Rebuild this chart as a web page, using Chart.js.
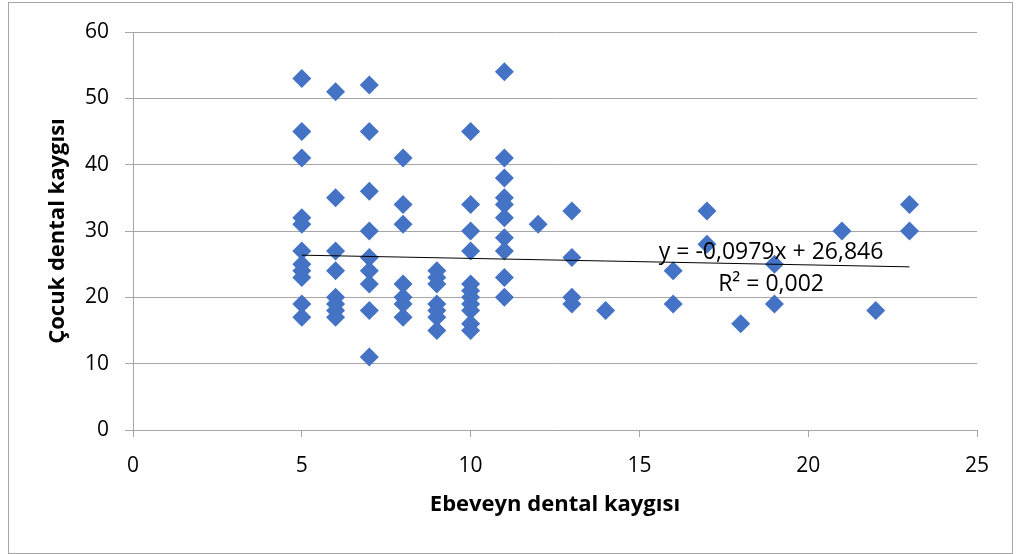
<!DOCTYPE html>
<html>
<head>
<meta charset="utf-8">
<script src="https://cdn.jsdelivr.net/npm/chart.js@4/dist/chart.umd.min.js"></script>
<style>
  html, body { margin: 0; padding: 0; background: #fff; }
  #wrap { width: 1021px; height: 554px; }
</style>
</head>
<body>
<div id="wrap"><canvas id="chart"></canvas></div>
<script>
// Ebeveyn dental kaygısı (x) vs Çocuk dental kaygısı (y)
const parentScores = [
    5, 5, 5, 5, 5, 5, 5, 5, 5, 5, 5,
    6, 6, 6, 6, 6, 6, 6, 6,
    7, 7, 7, 7, 7, 7, 7, 7, 7,
    8, 8, 8, 8, 8, 8, 8,
    9, 9, 9, 9, 9, 9, 9,
    10, 10, 10, 10, 10, 10, 10, 10, 10, 10, 10,
    11, 11, 11, 11, 11, 11, 11, 11, 11, 11,
    12,
    13, 13, 13, 13,
    14,
    16, 16,
    17, 17,
    18,
    19, 19,
    21,
    22,
    23, 23
];
const childScores = [
    53, 45, 41, 32, 31, 27, 25, 24, 23, 19, 17,
    51, 35, 27, 24, 20, 19, 18, 17,
    52, 45, 36, 30, 26, 24, 22, 18, 11,
    41, 34, 31, 22, 20, 19, 17,
    24, 23, 22, 19, 18, 17, 15,
    45, 34, 30, 27, 22, 21, 20, 19, 18, 16, 15,
    54, 41, 38, 35, 34, 32, 29, 27, 23, 20,
    31,
    33, 26, 20, 19,
    18,
    24, 19,
    33, 28,
    16,
    25, 19,
    30,
    18,
    34, 30
];
const trendSlope = -0.0979;
const trendIntercept = 26.846;
const trendRange = [5, 23];
const trendLabels = ['y = -0,0979x + 26,846', 'R² = 0,002'];
const xTicks = [0, 5, 10, 15, 20, 25];
const yTicks = [0, 10, 20, 30, 40, 50, 60];

const FONT = '"Open Sans", "Liberation Sans", sans-serif';
const GRID = '#a6a6a6';
const BLUE = '#4472C4';

const points = parentScores.map((x, i) => ({x: x, y: childScores[i]}));
const trend = trendRange.map(x => ({x: x, y: trendIntercept + trendSlope * x}));

const frame = {
    id: 'frame',
    beforeDraw(chart) {
        const c = chart.ctx;
        c.save();
        c.fillStyle = '#fff';
        c.fillRect(0, 0, chart.width, chart.height);
        c.strokeStyle = GRID;
        c.lineWidth = 1;
        c.strokeRect(8.5, 2.5, chart.width - 17, chart.height - 3);
        c.restore();
    }
};

const trendText = {
    id: 'trendText',
    afterDatasetsDraw(chart) {
        const c = chart.ctx;
        const xs = chart.scales.x, ys = chart.scales.y;
        const cx = xs.getPixelForValue(18.9);
        const cy = ys.getPixelForValue(26.8);
        c.save();
        c.font = '23px ' + FONT;
        c.fillStyle = '#000';
        c.textAlign = 'center';
        c.textBaseline = 'middle';
        trendLabels.forEach((t, i) => c.fillText(t, cx, cy + i * 32));
        c.restore();
    }
};

new Chart(document.getElementById('chart'), {
    type: 'scatter',
    data: {
        datasets: [{
            data: points,
            pointStyle: 'rectRot',
            pointRadius: 9.5,
            pointHoverRadius: 9.5,
            backgroundColor: BLUE,
            borderColor: BLUE,
            borderWidth: 0,
            order: 2
        }, {
            type: 'line',
            data: trend,
            borderColor: '#000',
            borderWidth: 1,
            pointRadius: 0,
            fill: false,
            order: 1
        }]
    },
    options: {
        responsive: true,
        maintainAspectRatio: false,
        animation: false,
        devicePixelRatio: 1,
        layout: { padding: { left: 44, right: 44, top: 32, bottom: 30 } },
        plugins: {
            legend: { display: false },
            tooltip: { enabled: false }
        },
        scales: {
            x: {
                type: 'linear',
                min: 0,
                max: 25,
                afterBuildTicks: s => { s.ticks = xTicks.map(v => ({value: v})); },
                afterFit: s => { s.height = 94; },
                grid: { drawOnChartArea: false, drawTicks: true, tickLength: 7, color: GRID },
                border: { display: true, color: GRID },
                ticks: { color: '#000', padding: 16, font: { family: FONT, size: 21 } },
                title: {
                    display: true,
                    text: 'Ebeveyn dental kaygısı',
                    color: '#000',
                    padding: { top: 0, bottom: 6 },
                    font: { family: FONT, size: 22, weight: 'bold' }
                }
            },
            y: {
                min: 0,
                max: 60,
                afterBuildTicks: s => { s.ticks = yTicks.map(v => ({value: v})); },
                afterFit: s => { s.width = 89; },
                grid: { color: GRID, tickLength: 8 },
                border: { display: true, color: GRID },
                ticks: { color: '#000', padding: 16, font: { family: FONT, size: 21 } },
                title: {
                    display: true,
                    text: 'Çocuk dental kaygısı',
                    color: '#000',
                    padding: { top: 1, bottom: 0 },
                    font: { family: FONT, size: 22, weight: 'bold' }
                }
            }
        }
    },
    plugins: [frame, trendText]
});
</script>
</body>
</html>
